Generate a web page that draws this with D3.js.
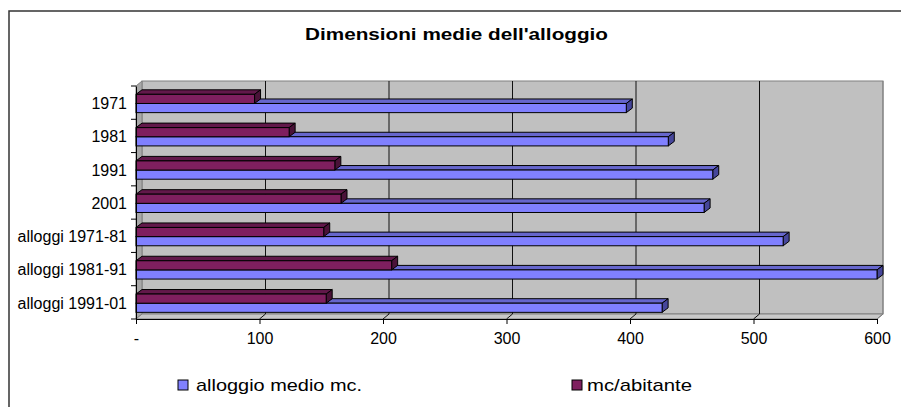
<!DOCTYPE html>
<html>
<head>
<meta charset="utf-8">
<script src="https://cdn.jsdelivr.net/npm/d3@7"></script>
<style>
  html, body { margin: 0; padding: 0; background: #fff; }
  svg { display: block; font-family: "Liberation Sans", Arial, sans-serif; }
</style>
</head>
<body>
<svg id="chart" width="901" height="407"></svg>
<script>
// ---- data ----
const categories = ["1971", "1981", "1991", "2001", "alloggi 1971-81", "alloggi 1981-91", "alloggi 1991-01"];
const alloggioMedio = [397, 431, 467, 460, 524, 600, 426];
const mcAbitante = [96, 124, 161, 166, 152, 207, 154];
const seriesNames = ["alloggio medio mc.", "mc/abitante"];
const tickValues = [0, 100, 200, 300, 400, 500, 600];
const tickLabels = ["-", "100", "200", "300", "400", "500", "600"];
const titleText = "Dimensioni medie dell'alloggio";

// ---- layout / style ----
const svg = d3.select("#chart");
const DX = 6, DY = 5;        // wall depth
const BDX = 6, BDY = 4.5;    // bar depth
const x = d3.scaleLinear().domain([0, 600]).range([136, 877]);
const y = d3.scaleBand().domain(categories).range([86, 319]);
const bw = y.bandwidth();
const inner = d3.scaleBand().domain(["mc", "all"]).range([bw * 0.25, bw * 0.8]);
const colors = {
  all: { front: "#8080FF", top: "#6666CC", side: "#46469A" },
  mc:  { front: "#7F1F5F", top: "#62184A", side: "#4A1238" }
};

// outer border
svg.append("rect").attr("x", 9).attr("y", 11).attr("width", 1000).attr("height", 600)
  .attr("fill", "none").attr("stroke", "#333").attr("stroke-width", 1.5);

// title
svg.append("text").attr("x", 456.5).attr("y", 40).attr("text-anchor", "middle")
  .attr("font-size", 17).attr("font-weight", "bold").attr("fill", "#000")
  .attr("textLength", 303).attr("lengthAdjust", "spacingAndGlyphs")
  .text(titleText);

const x0 = x(0), x1 = x(600), yTop = y.range()[0], yBot = y.range()[1];

// back wall
svg.append("rect").attr("x", x0 + DX).attr("y", yTop - DY)
  .attr("width", x1 - x0).attr("height", yBot - yTop)
  .attr("fill", "#C0C0C0").attr("stroke", "#808080").attr("stroke-width", 1);
// left side wall
svg.append("path")
  .attr("d", `M${x0},${yTop} L${x0 + DX},${yTop - DY} L${x0 + DX},${yBot - DY} L${x0},${yBot} Z`)
  .attr("fill", "#A8A8A8").attr("stroke", "#808080").attr("stroke-width", 1);
// floor
svg.append("path")
  .attr("d", `M${x0},${yBot} L${x0 + DX},${yBot - DY} L${x1 + DX},${yBot - DY} L${x1},${yBot} Z`)
  .attr("fill", "#C8C8C8").attr("stroke", "#808080").attr("stroke-width", 1);

// gridlines (floor diagonal + back wall vertical)
tickValues.forEach(v => {
  if (v === 0) return;
  const gx = x(v);
  svg.append("path")
    .attr("d", `M${gx},${yBot} L${gx + DX},${yBot - DY} L${gx + DX},${yTop - DY}`)
    .attr("fill", "none").attr("stroke", v === 600 ? "#808080" : "#111").attr("stroke-width", 1);
});

// bars
function bar(g, cat, val, key) {
  const c = colors[key];
  const top = y(cat) + inner(key);
  const h = inner.bandwidth();
  const xe = x(val);
  g.append("path")
    .attr("d", `M${x0},${top} L${x0 + BDX},${top - BDY} L${xe + BDX},${top - BDY} L${xe},${top} Z`)
    .attr("fill", c.top).attr("stroke", "#000").attr("stroke-width", 1).attr("stroke-linejoin", "round");
  g.append("path")
    .attr("d", `M${xe},${top} L${xe + BDX},${top - BDY} L${xe + BDX},${top + h - BDY} L${xe},${top + h} Z`)
    .attr("fill", c.side).attr("stroke", "#000").attr("stroke-width", 1).attr("stroke-linejoin", "round");
  g.append("rect").attr("x", x0).attr("y", top).attr("width", xe - x0).attr("height", h)
    .attr("fill", c.front).attr("stroke", "#000").attr("stroke-width", 1);
}
const barsG = svg.append("g");
categories.forEach((cat, i) => {
  const g = barsG.append("g");
  bar(g, cat, alloggioMedio[i], "all");
  bar(g, cat, mcAbitante[i], "mc");
});

// value axis
const xAxis = d3.axisBottom(x).tickValues(tickValues)
  .tickFormat((d, i) => tickLabels[i]).tickSize(5).tickSizeOuter(0).tickPadding(9);
const gx = svg.append("g").attr("transform", `translate(0,${yBot})`).call(xAxis);
gx.selectAll("text").attr("font-size", 16).attr("font-family", "Liberation Sans, Arial, sans-serif").attr("fill", "#000");
gx.selectAll("line").attr("stroke", "#000");
gx.select(".domain").attr("stroke", "#000");

// category axis
const yAxis = d3.axisLeft(y).tickSize(0).tickSizeOuter(0).tickPadding(9);
const gy = svg.append("g").attr("transform", `translate(${x0},0)`).call(yAxis);
gy.selectAll("text").attr("font-size", 16).attr("font-family", "Liberation Sans, Arial, sans-serif").attr("fill", "#000").attr("dy", "0.4em");
gy.select(".domain").attr("stroke", "#000");
const bounds = categories.map(c => y(c)).concat([yBot]);
gy.selectAll("line.bound").data(bounds).enter().append("line").attr("class", "bound")
  .attr("x1", -5).attr("x2", 0).attr("y1", d => d).attr("y2", d => d)
  .attr("stroke", "#000");

// legend
const legend = [
  { name: seriesNames[0], key: "all", sx: 178, tx: 196, tl: 166 },
  { name: seriesNames[1], key: "mc", sx: 572, tx: 587, tl: 105 }
];
legend.forEach(l => {
  svg.append("rect").attr("x", l.sx).attr("y", 380).attr("width", 10).attr("height", 10)
    .attr("fill", colors[l.key].front).attr("stroke", "#000").attr("stroke-width", 1);
  svg.append("text").attr("x", l.tx).attr("y", 390.5).attr("font-size", 17).attr("fill", "#000")
    .attr("textLength", l.tl).attr("lengthAdjust", "spacingAndGlyphs").text(l.name);
});
</script>
</body>
</html>
